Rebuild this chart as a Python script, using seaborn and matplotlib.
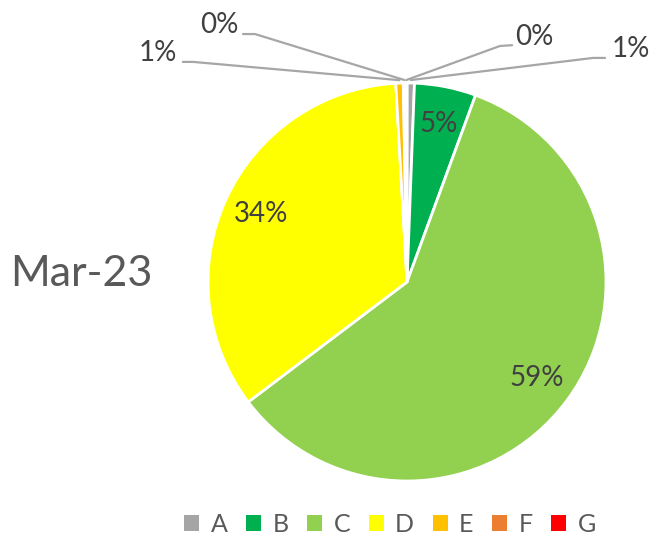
#Pie chart Mar-23 share per category

import seaborn as sns
import matplotlib.pyplot as plt
from matplotlib.patches import Patch
import numpy as np

# data
categories = ["A", "B", "C", "D", "E", "F", "G"]
shares = [0.6, 5.0, 59.1, 34.4, 0.6, 0.2, 0.1]
colors = ["#A5A5A5", "#00B050", "#92D050", "#FFFF00", "#FFC000", "#ED7D31", "#FF0000"]
title = "Mar-23"

sns.set_theme(style="white")
plt.rcParams['font.family'] = ['Lato', 'DejaVu Sans']

fig = plt.figure(figsize=(6.56, 5.35), dpi=100)
W, H = 656, 535
cx, cy, r = 407, 282, 199
ax = fig.add_axes([(cx - r) / W, (H - cy - r) / H, 2 * r / W, 2 * r / H])

wedges, _ = ax.pie(shares, colors=colors, startangle=90, counterclock=False,
                   wedgeprops=dict(edgecolor="white", linewidth=2))
ax.set_xlim(-1, 1)
ax.set_ylim(-1, 1)
ax.set_aspect("equal")
ax.axis("off")

label_color = "#404040"
line_color = "#A6A6A6"

# big slices get labels inside
for w, v in zip(wedges, shares):
    if v < 2:
        continue
    ang = np.deg2rad((w.theta1 + w.theta2) / 2)
    d = 0.81
    ax.text(d * np.cos(ang), d * np.sin(ang), f"{v:.0f}%", ha="center", va="center",
            fontsize=20, color=label_color)

# tiny slices: leader lines from the top of the pie
# (category index, elbow, line end, text pos, ha)
callouts = [
    (0, (0.935, 1.126), (0.995, 1.126), (1.03, 1.13), "left"),
    (6, (0.467, 1.186), (0.528, 1.19), (0.543, 1.19), "left"),
    (5, (-0.764, 1.246), (-0.824, 1.246), (-0.849, 1.25), "right"),
    (4, (-1.075, 1.106), (-1.126, 1.106), (-1.156, 1.11), "right"),
]
for idx, elbow, end, tpos, ha in callouts:
    w = wedges[idx]
    ang = np.deg2rad((w.theta1 + w.theta2) / 2)
    sx, sy = 1.015 * np.cos(ang), 1.015 * np.sin(ang)
    ax.plot([sx, elbow[0], end[0]], [sy, elbow[1], end[1]], color=line_color,
            lw=1.6, clip_on=False, solid_joinstyle="round")
    ax.text(tpos[0], tpos[1], f"{shares[idx]:.0f}%", ha=ha, va="baseline",
            fontsize=20, color=label_color, clip_on=False)

fig.text(10 / W, 1 - 274 / H, title, ha="left", va="center", fontsize=31, color="#595959")

handles = [Patch(facecolor=c, edgecolor="none") for c in colors]
fig.legend(handles, categories, loc="center", bbox_to_anchor=(390 / W, 1 - 524 / H),
           ncol=7, frameon=False, fontsize=18, handlelength=0.6, handleheight=0.6,
           handletextpad=0.45, columnspacing=0.75, labelcolor="#595959")

plt.savefig("out.png", dpi=100)
